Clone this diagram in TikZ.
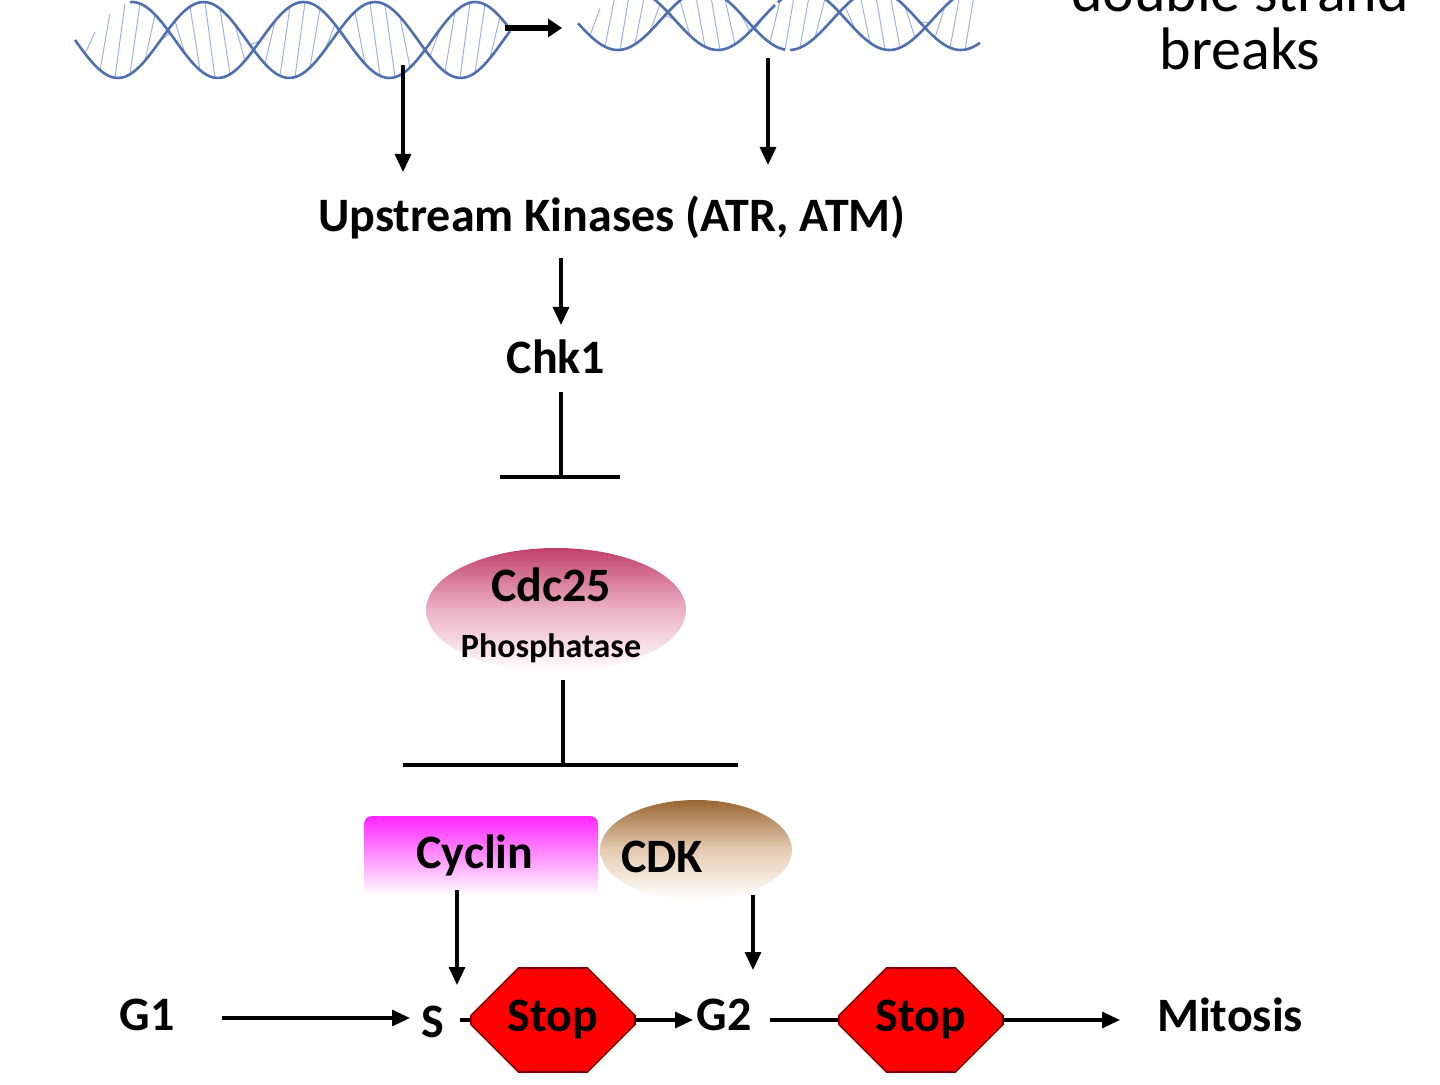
\documentclass[tikz,border=0pt]{standalone}
\usepackage{fontspec}
\setmainfont{Carlito}
\usetikzlibrary{shapes.geometric,shapes.misc,arrows.meta}
\definecolor{dna}{HTML}{4F6FAF}
\definecolor{dnal}{HTML}{9FB3DA}
\begin{document}
\begin{tikzpicture}[x=0.5pt,y=-0.5pt,
  lbl/.style={font=\bfseries\fontsize{24}{26}\selectfont},
  arr/.style={line width=1.6pt,-{Triangle[length=9pt,width=8pt]}},
  inh/.style={line width=1.6pt},
  stop/.style={chamfered rectangle,chamfered rectangle xsep=14pt,chamfered rectangle ysep=14pt,minimum width=82pt,minimum height=52pt,inner sep=0pt,fill=red,draw=red!50!black,line width=0.8pt,font=\bfseries\fontsize{24}{26}\selectfont}]
\useasboundingbox (0,0) rectangle (1440,1085);
% DNA 1
\foreach \x in {85,100,...,500}{
  \draw[dnal,line width=0.5pt] (\x,{40+38*sin((\x-75)*2.1)}) -- (\x+10,{40+38*sin((\x+10-75)*2.1+150)});}
\draw[dna,line width=1.3pt] plot[domain=75:510,samples=120] (\x,{40+38*sin((\x-75)*2.1)});
\draw[dna,line width=1.3pt] plot[domain=130:510,samples=120] (\x,{40+38*sin((\x-75)*2.1+150)});
% DNA 2 with break
\foreach \x in {590,605,...,970}{
  \draw[dnal,line width=0.5pt] (\x,{20+30*sin((\x-575)*2.1)}) -- (\x+10,{20+30*sin((\x+10-575)*2.1+150)});}
\draw[dna,line width=1.3pt] plot[domain=578:785,samples=80] (\x,{20+30*sin((\x-575)*2.1)});
\draw[dna,line width=1.3pt] plot[domain=790:980,samples=80] (\x,{20+30*sin((\x-575)*2.1)});
\draw[dna,line width=1.3pt] plot[domain=630:775,samples=80] (\x,{20+30*sin((\x-575)*2.1+150)});
\draw[dna,line width=1.3pt] plot[domain=778:960,samples=80] (\x,{20+30*sin((\x-575)*2.1+150)});
\coordinate (sa) at (505,28); \coordinate (sb) at (562,28);
\draw[line width=3pt,-{Triangle[length=7pt,width=9pt]}] (sa) -- (sb);
\node[font=\fontsize{30}{29}\selectfont,align=center] (dsb) at (1240,20) {double strand\\breaks};
\coordinate (d1) at (403,65); \coordinate (d2) at (768,58);
\node[lbl] (up) at (612,217) {Upstream Kinases (ATR, ATM)};
\draw[arr] (d1) -- (403,172);
\draw[arr] (d2) -- (768,165);
\node[lbl] (chk) at (556,357) {Chk1};
\draw[arr] (561,258) -- (561,325);
\coordinate (i1a) at (561,392); \coordinate (i1b) at (561,477);
\draw[inh] (i1a) -- (i1b); \draw[inh] (500,477) -- (620,477);
\node[ellipse,minimum width=130pt,minimum height=62pt,top color=black!10!purple!75!white,bottom color=white,middle color=purple!30!white] (cdc) at (556,610) {};
\node[lbl] at (551,585) {Cdc25};
\node[font=\bfseries\fontsize{17}{18}\selectfont] at (551,648) {Phosphatase};
\draw[inh] (563,680) -- (563,765); \draw[inh] (403,765) -- (738,765);
\node[rectangle,rounded corners=4pt,minimum width=117pt,minimum height=40pt,top color=magenta!85!white,bottom color=white] (cyc) at (481,856) {};
\node[lbl] at (475,855) {Cyclin};
\node[ellipse,minimum width=96pt,minimum height=50pt,top color=brown!80!black,bottom color=white,middle color=brown!40!white] (cdk) at (696,850) {};
\node[lbl] at (662,857) {CDK};
\node[lbl] (g1) at (147,1015) {G1};
\node[lbl] (s) at (433,1022) {S};
\node[stop] (st1) at (553,1020) {Stop};
\node[lbl] (g2) at (724,1015) {G2};
\node[stop] (st2) at (921,1020) {Stop};
\node[lbl] (mit) at (1230,1015) {Mitosis};
\draw[arr] (457,890) -- (457,985);
\draw[arr] (753,895) -- (753,970);
\draw[arr] (222,1018) -- (410,1018);
\draw[inh] (460,1020) -- (st1.west);
\draw[arr] (st1.east) -- (693,1020);
\draw[inh] (770,1020) -- (st2.west);
\draw[arr] (st2.east) -- (1120,1020);
\end{tikzpicture}
\end{document}
